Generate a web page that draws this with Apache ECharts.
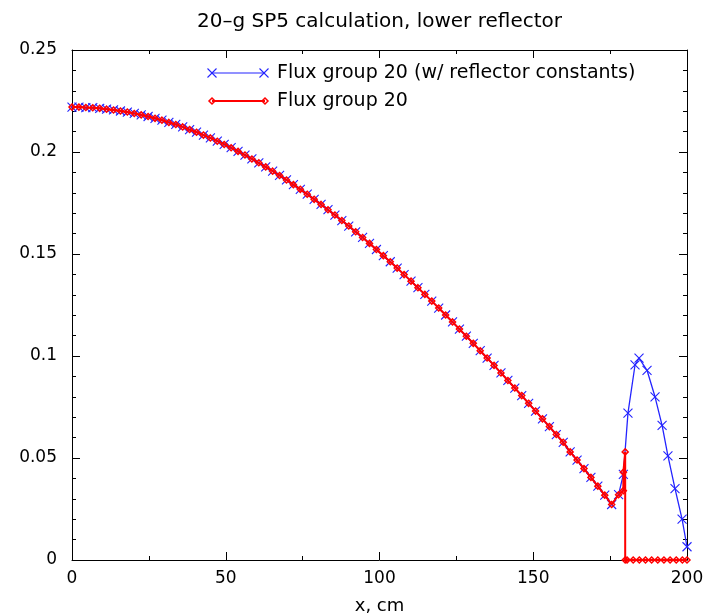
<!DOCTYPE html>
<html>
<head>
<meta charset="utf-8">
<script src="https://cdn.jsdelivr.net/npm/echarts@6/dist/echarts.min.js"></script>
<style>html,body{margin:0;padding:0;background:#fff;}#c{width:723px;height:616px;}</style>
</head>
<body>
<div id="c"></div>
<script>
// Title / labels
const titleText = '20\u2013g SP5 calculation, lower reflector';
const xName = 'x, cm';
const seriesNames = ['Flux group 20 (w/ reflector constants)', 'Flux group 20'];

// Core region mesh (cm) and flux, shared by both curves
const xCore = [0,2.25,4.5,6.75,9,11.25,13.5,15.75,18,20.25,22.5,24.75,27,29.25,31.5,33.75,36,38.25,40.5,42.75,
  45,47.25,49.5,51.75,54,56.25,58.5,60.75,63,65.25,67.5,69.75,72,74.25,76.5,78.75,81,83.25,85.5,87.75,
  90,92.25,94.5,96.75,99,101.25,103.5,105.75,108,110.25,112.5,114.75,117,119.25,121.5,123.75,126,128.25,130.5,132.75,
  135,137.25,139.5,141.75,144,146.25,148.5,150.75,153,155.25,157.5,159.75,162,164.25,166.5,168.75,171,173.25,175.5,177.75];
const yCore = [0.2220,0.2220,0.2218,0.2217,0.2214,0.2210,0.2206,0.2201,0.2196,0.2189,
  0.2182,0.2174,0.2165,0.2156,0.2145,0.2135,0.2123,0.2110,0.2097,0.2083,
  0.2069,0.2053,0.2037,0.2021,0.2003,0.1985,0.1966,0.1947,0.1927,0.1906,
  0.1885,0.1863,0.1840,0.1817,0.1793,0.1768,0.1743,0.1717,0.1691,0.1664,
  0.1637,0.1609,0.1581,0.1552,0.1522,0.1492,0.1462,0.1431,0.1399,0.1367,
  0.1335,0.1302,0.1269,0.1235,0.1201,0.1167,0.1132,0.1097,0.1062,0.1026,
  0.0990,0.0954,0.0917,0.0880,0.0843,0.0806,0.0768,0.0730,0.0692,0.0654,
  0.0615,0.0577,0.0530,0.0490,0.0448,0.0405,0.0362,0.0318,0.0272,0.0320];

// Reflector region, blue curve (with reflector constants)
const xReflBlue = [179.3,180.8,183.1,184.4,187.0,189.6,191.9,193.8,196.1,198.4,200];
const yReflBlue = [0.042,0.072,0.0956,0.099,0.093,0.080,0.066,0.051,0.035,0.020,0.0065];

// Reflector region, red curve
const xReflRed = [179.3,179.3,179.9,179.9,180.5,182.5,184.5,186.5,188.5,190.5,192.5,194.5,196.5,198.5,200];
const yReflRed = [0.034,0.043,0.053,0,0,0,0,0,0,0,0,0,0,0,0];

// Axis ticks
const xTicks = [0,50,100,150,200];
const yTicks = [0,0.05,0.1,0.15,0.2,0.25];

const FONT = 'DejaVu Sans';
const BLUE = '#2424ff';
const RED = '#ff0000';

function zip(xs, ys){ return xs.map((x,i)=>[x, ys[i]]); }
const blueData = zip(xCore.concat(xReflBlue), yCore.concat(yReflBlue));
const redData = zip(xCore.concat(xReflRed), yCore.concat(yReflRed));

const G = {left:72, right:687, top:50, bottom:560};

function axisCommon(){
  return {
    axisLine:{show:true, onZero:false, lineStyle:{color:'#000', width:1}},
    axisTick:{show:true, inside:true, length:8, lineStyle:{color:'#000', width:1}},
    splitLine:{show:false},
    minorSplitLine:{show:false}
  };
}

const chart = echarts.init(document.getElementById('c'), null, {renderer:'canvas'});
const crossPath = 'path://M0,0L10,10M10,0L0,10';

const option = {
  animation:false,
  backgroundColor:'#fff',
  grid:{left:G.left, right:723-G.right, top:G.top, bottom:616-G.bottom, containLabel:false, outerBoundsMode:'none'},
  xAxis:[
    Object.assign(axisCommon(), {
      type:'value', position:'bottom', min:xTicks[0], max:xTicks[xTicks.length-1], interval:50,
      minorTick:{show:true, splitNumber:2, length:4, lineStyle:{color:'#000'}},
      axisLabel:{show:true, margin:10, color:'#000', fontFamily:FONT, fontSize:17},
      name:xName, nameLocation:'middle', nameGap:37,
      nameTextStyle:{color:'#000', fontFamily:FONT, fontSize:18}
    }),
    Object.assign(axisCommon(), {
      type:'value', position:'top', min:xTicks[0], max:xTicks[xTicks.length-1], interval:50,
      minorTick:{show:true, splitNumber:2, length:4, lineStyle:{color:'#000'}},
      axisLabel:{show:false}
    })
  ],
  yAxis:[
    Object.assign(axisCommon(), {
      type:'value', position:'left', min:yTicks[0], max:yTicks[yTicks.length-1], interval:0.05,
      minorTick:{show:true, splitNumber:5, length:4, lineStyle:{color:'#000'}},
      axisLabel:{show:true, margin:15, color:'#000', fontFamily:FONT, fontSize:17}
    }),
    Object.assign(axisCommon(), {
      type:'value', position:'right', min:yTicks[0], max:yTicks[yTicks.length-1], interval:0.05,
      minorTick:{show:true, splitNumber:5, length:4, lineStyle:{color:'#000'}},
      axisLabel:{show:false}
    })
  ],
  series:[
    {
      name:seriesNames[0], type:'line', xAxisIndex:0, yAxisIndex:0, data:blueData,
      showAllSymbol:true, symbol:crossPath, symbolSize:9,
      lineStyle:{color:BLUE, width:1.3},
      itemStyle:{color:BLUE, borderColor:BLUE, borderWidth:1.1},
      emphasis:{disabled:true}, z:2
    },
    {
      name:seriesNames[1], type:'line', xAxisIndex:0, yAxisIndex:0, data:redData,
      showAllSymbol:true, symbol:'diamond', symbolSize:6,
      lineStyle:{color:RED, width:2},
      itemStyle:{color:'rgba(0,0,0,0)', borderColor:RED, borderWidth:1.5},
      emphasis:{disabled:true}, z:3
    }
  ],
  graphic:[
    {type:'text', x:(G.left+G.right)/2, y:22, style:{text:titleText, fill:'#000', font:'20px "'+FONT+'"', align:'center', verticalAlign:'middle', textAlign:'center', textVerticalAlign:'middle'}},
    // legend row 1
    {type:'line', shape:{x1:212,y1:73,x2:264,y2:73}, style:{stroke:BLUE, lineWidth:1.2}},
    {type:'line', shape:{x1:207.5,y1:68.5,x2:216.5,y2:77.5}, style:{stroke:BLUE, lineWidth:1.1}},
    {type:'line', shape:{x1:207.5,y1:77.5,x2:216.5,y2:68.5}, style:{stroke:BLUE, lineWidth:1.1}},
    {type:'line', shape:{x1:259.5,y1:68.5,x2:268.5,y2:77.5}, style:{stroke:BLUE, lineWidth:1.1}},
    {type:'line', shape:{x1:259.5,y1:77.5,x2:268.5,y2:68.5}, style:{stroke:BLUE, lineWidth:1.1}},
    {type:'text', x:277, y:73, style:{text:seriesNames[0], fill:'#000', font:'19px "'+FONT+'"', align:'left', verticalAlign:'middle', textVerticalAlign:'middle'}},
    // legend row 2
    {type:'line', shape:{x1:212,y1:101,x2:265,y2:101}, style:{stroke:RED, lineWidth:2}},
    {type:'polygon', shape:{points:[[212,98],[215,101],[212,104],[209,101]]}, style:{fill:'none', stroke:RED, lineWidth:1.5}},
    {type:'polygon', shape:{points:[[265,98],[268,101],[265,104],[262,101]]}, style:{fill:'none', stroke:RED, lineWidth:1.5}},
    {type:'text', x:277, y:101, style:{text:seriesNames[1], fill:'#000', font:'19px "'+FONT+'"', align:'left', verticalAlign:'middle', textVerticalAlign:'middle'}}
  ]
};
chart.setOption(option);
</script>
</body>
</html>
